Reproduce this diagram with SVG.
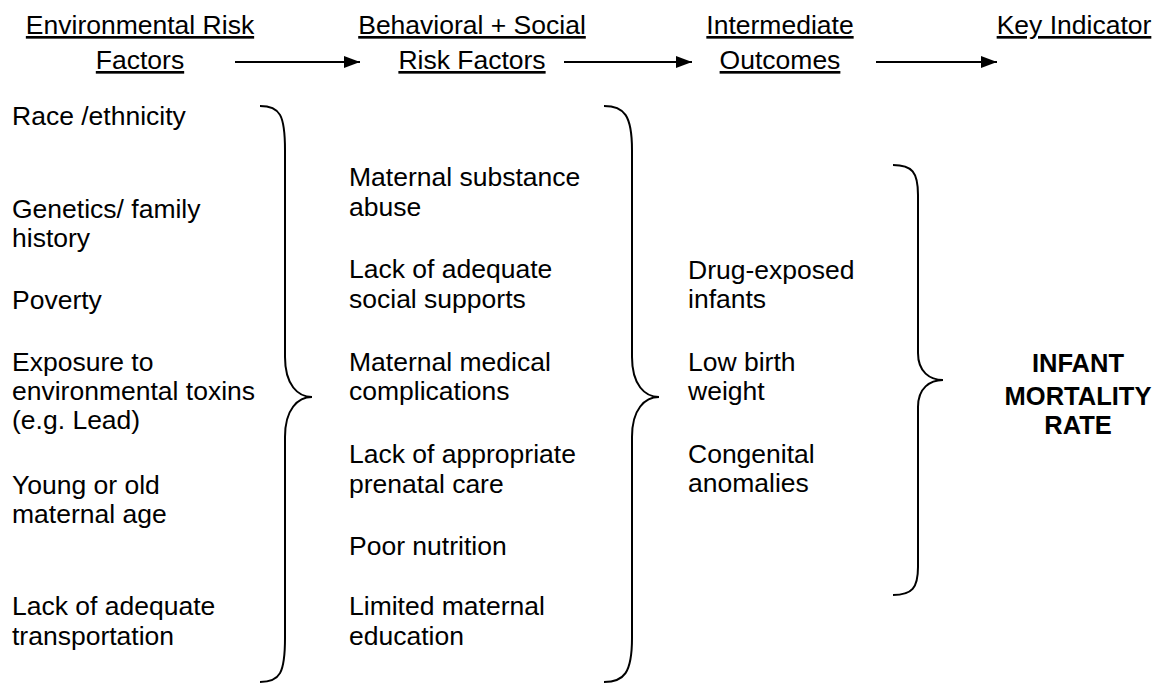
<svg xmlns="http://www.w3.org/2000/svg" width="1164" height="684" viewBox="0 0 1164 684">
<style>
text{font-family:"Liberation Sans",Arial,sans-serif;font-size:26.5px;fill:#000}
.h{text-anchor:middle;text-decoration:underline}
.b{font-weight:bold;text-anchor:middle;font-size:25.5px}
.br{fill:none;stroke:#000;stroke-width:2}
.ar{stroke:#000;stroke-width:2}
</style>
<defs>
<marker id="ah" markerWidth="17" markerHeight="14" refX="16" refY="7" orient="auto" markerUnits="userSpaceOnUse">
<path d="M0,1 L16,7 L0,13 Z" fill="#000"/>
</marker>
</defs>
<rect width="1164" height="684" fill="#fff"/>
<g id="h1"><text class="h" x="140" y="34">Environmental Risk</text><text class="h" x="140" y="69">Factors</text></g>
<g id="h2"><text class="h" x="472" y="34">Behavioral + Social</text><text class="h" x="472" y="69">Risk Factors</text></g>
<g id="h3"><text class="h" x="780" y="34">Intermediate</text><text class="h" x="780" y="69">Outcomes</text></g>
<g id="h4"><text class="h" x="1074" y="34">Key Indicator</text></g>
<g id="connectors">
<line class="ar" x1="235" y1="62" x2="360" y2="62" marker-end="url(#ah)"/>
<line class="ar" x1="564" y1="62" x2="692" y2="62" marker-end="url(#ah)"/>
<line class="ar" x1="876" y1="62" x2="997" y2="62" marker-end="url(#ah)"/>
<path class="br" d="M260,106 C280,106 285,115 285,150 L285,357 C285,385 298,397 312,397 C298,397 285,409 285,437 L285,638 C285,673 280,682 260,682"/>
<path class="br" d="M604,106 C624,106 632,115 632,150 L632,357 C632,385 645,397 659,397 C645,397 632,409 632,437 L632,638 C632,673 624,682 604,682"/>
<path class="br" d="M893,165 C912,165 918,172 918,195 L918,353 C918,372 930,380 943,380 C930,380 918,388 918,407 L918,567 C918,588 912,595 893,595"/>
</g>
<g id="env">
<text x="12" y="125">Race /ethnicity</text>
<text x="12" y="218">Genetics/ family</text>
<text x="12" y="247">history</text>
<text x="12" y="309">Poverty</text>
<text x="12" y="371">Exposure to</text>
<text x="12" y="400">environmental toxins</text>
<text x="12" y="429">(e.g. Lead)</text>
<text x="12" y="494">Young or old</text>
<text x="12" y="523">maternal age</text>
<text x="12" y="615">Lack of adequate</text>
<text x="12" y="645">transportation</text>
</g>
<g id="beh">
<text x="349" y="186">Maternal substance</text>
<text x="349" y="216">abuse</text>
<text x="349" y="278">Lack of adequate</text>
<text x="349" y="308">social supports</text>
<text x="349" y="371">Maternal medical</text>
<text x="349" y="400">complications</text>
<text x="349" y="463">Lack of appropriate</text>
<text x="349" y="493">prenatal care</text>
<text x="349" y="555">Poor nutrition</text>
<text x="349" y="615">Limited maternal</text>
<text x="349" y="645">education</text>
</g>
<g id="out">
<text x="688" y="279">Drug-exposed</text>
<text x="688" y="308">infants</text>
<text x="688" y="371">Low birth</text>
<text x="688" y="400">weight</text>
<text x="688" y="463">Congenital</text>
<text x="688" y="492">anomalies</text>
</g>
<g id="key">
<text class="b" x="1078" y="372">INFANT</text>
<text class="b" x="1078" y="405">MORTALITY</text>
<text class="b" x="1078" y="434">RATE</text>
</g>
</svg>
